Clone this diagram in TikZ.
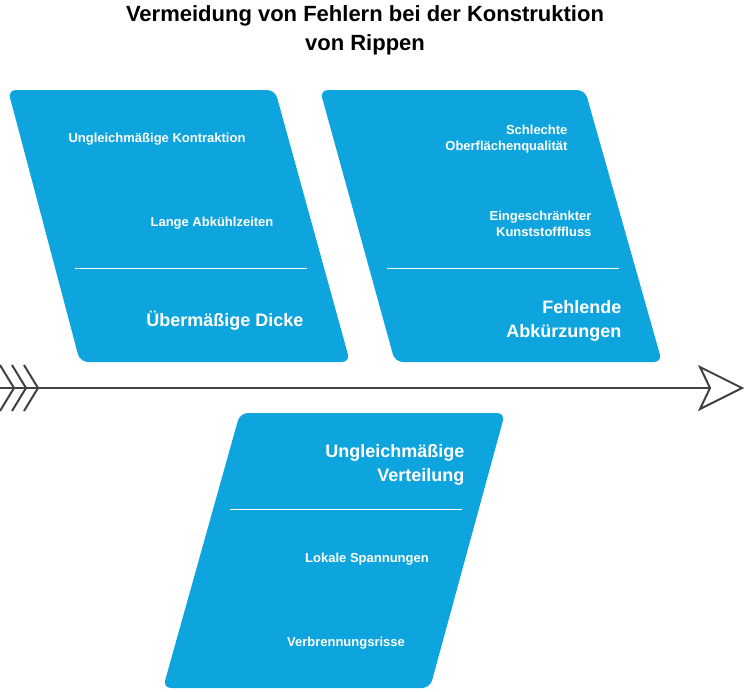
\documentclass[tikz,border=0pt]{standalone}
\usepackage{fontspec}
\setmainfont{Liberation Sans}
\usetikzlibrary{positioning}
\definecolor{boneblue}{HTML}{0EA5DF}
\definecolor{spine}{HTML}{404040}

\begin{document}
\begin{tikzpicture}[x=1pt,y=-1pt,
bone/.style={fill=boneblue, rounded corners=8pt},
cause/.style={text=white, font=\bfseries\fontsize{13}{16}\selectfont, align=right},
effect/.style={text=white, font=\bfseries\fontsize{18}{24}\selectfont, align=right},
rule/.style={white, line width=1pt},
spineline/.style={spine, line width=2pt}]
\useasboundingbox (0,0) rectangle (744,691);
%Title
\node[font=\bfseries\fontsize{22}{29}\selectfont, align=center] (title) at (365,30) {Vermeidung von Fehlern bei der Konstruktion\\von Rippen};
%Bones
\path[bone] (8,90) -- (275,90) -- (350,362) -- (80,362) -- cycle;
\path[bone] (320,90) -- (585,90) -- (662,362) -- (395,362) -- cycle;
\path[bone] (240,413) -- (505,413) -- (430,688) -- (163,688) -- cycle;
%Texts
\node[cause] (c11) at (157,139) {Ungleichmäßige Kontraktion};
\node[cause] (c12) at (212,223) {Lange Abkühlzeiten};
\draw[rule] (75,268) -- (307,268);
\node[effect] (e1) at (225,321) {Übermäßige Dicke};
\node[cause, anchor=east] (c21) at (571,139) {Schlechte\\Oberflächenqualität};
\node[cause, anchor=east] (c22) at (595,224) {Eingeschränkter\\Kunststofffluss};
\draw[rule] (387,268) -- (619,268);
\node[effect, anchor=east] (e2) at (625,321) {Fehlende\\Abkürzungen};
\node[effect, anchor=east] (e3) at (468,465) {Ungleichmäßige\\Verteilung};
\draw[rule] (230,509) -- (462,509);
\node[cause] (c31) at (367,559) {Lokale Spannungen};
\node[cause] (c32) at (346,643) {Verbrennungsrisse};
%Spine
\coordinate (tail) at (0,388);
\coordinate (head) at (710,388);
\draw[spineline] (tail) -- (head);
\foreach \x in {14,26,38}
  \draw[spineline] (\x-14,365) -- (\x,388) -- (\x-14,411);
\draw[spineline, fill=white, line join=miter] (head) -- (700,367) -- (742,388) -- (700,409) -- cycle;
\end{tikzpicture}
\end{document}
